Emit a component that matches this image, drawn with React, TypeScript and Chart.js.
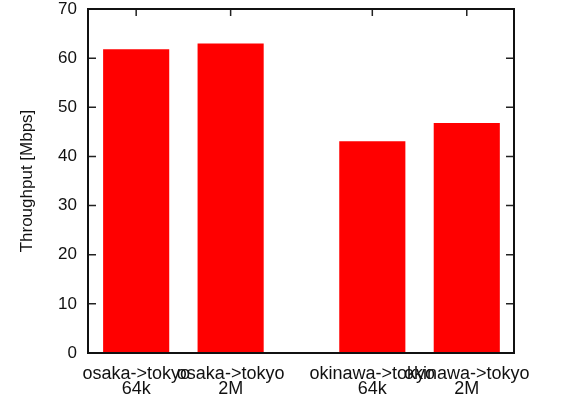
import React, { useEffect, useRef } from 'react';
import { Chart, registerables } from 'chart.js';

Chart.register(...registerables);

// ---- data ----
const categoryLines: string[][] = [
  ['osaka->tokyo', '64k'],
  ['osaka->tokyo', '2M'],
  ['okinawa->tokyo', '64k'],
  ['okinawa->tokyo', '2M'],
];
const positions: number[] = [0, 1, 2.5, 3.5];
const throughput: number[] = [61.8, 63.0, 43.1, 46.8];
const yTickValues: number[] = [0, 10, 20, 30, 40, 50, 60, 70];
const yTitle = 'Throughput [Mbps]';

const FONT = '"Liberation Sans", Arial, Helvetica, sans-serif';

const framePlugin = {
  id: 'gnuplotFrame',
  beforeDatasetsDraw(chart: any) {
    const { ctx, chartArea, scales } = chart;
    const { left, right, top, bottom } = chartArea;
    ctx.save();
    ctx.strokeStyle = '#222';
    ctx.lineWidth = 1.5;
    ctx.beginPath();
    for (const v of yTickValues) {
      const y = scales.y.getPixelForValue(v);
      ctx.moveTo(left, y);
      ctx.lineTo(left + 8, y);
      ctx.moveTo(right, y);
      ctx.lineTo(right - 8, y);
    }
    for (const p of positions) {
      const x = scales.x.getPixelForValue(p);
      ctx.moveTo(x, top);
      ctx.lineTo(x, top + 7);
      ctx.moveTo(x, bottom);
      ctx.lineTo(x, bottom - 7);
    }
    ctx.stroke();
    ctx.restore();
  },
  afterDatasetsDraw(chart: any) {
    const { ctx, chartArea } = chart;
    const { left, right, top, bottom } = chartArea;
    ctx.save();
    ctx.strokeStyle = '#111';
    ctx.lineWidth = 2;
    ctx.strokeRect(left, top, right - left, bottom - top);
    ctx.restore();
  },
};

export default function App() {
  const canvasRef = useRef<HTMLCanvasElement | null>(null);

  useEffect(() => {
    document.body.style.margin = '0';
    const canvas = canvasRef.current;
    if (!canvas) return;
    const chart = new Chart(canvas, {
      type: 'bar',
      data: {
        datasets: [
          {
            data: positions.map((p, i) => ({ x: p, y: throughput[i] })),
            backgroundColor: '#ff0000',
            borderWidth: 0,
            barPercentage: 0.7,
            categoryPercentage: 1,
          },
        ],
      },
      options: {
        responsive: false,
        animation: false,
        devicePixelRatio: 1,
        layout: { padding: { top: 0, right: 60, left: 0, bottom: 0 } },
        plugins: {
          legend: { display: false },
          tooltip: { enabled: false },
        },
        scales: {
          x: {
            type: 'linear',
            offset: false,
            min: -0.51,
            max: 4.0,
            grid: { display: false, drawTicks: false, offset: false },
            border: { display: false },
            afterBuildTicks: (scale: any) => {
              scale.ticks = positions.map((v) => ({ value: v }));
            },
            afterFit: (scale: any) => {
              scale.height = 50;
            },
            ticks: {
              autoSkip: false,
              maxRotation: 0,
              minRotation: 0,
              padding: 13,
              color: '#111',
              font: { family: FONT, size: 18, lineHeight: 0.85 },
              callback: (_v: any, index: number) => categoryLines[index],
            },
          },
          y: {
            type: 'linear',
            min: 0,
            max: 70,
            grid: { display: false, drawTicks: false },
            border: { display: false },
            afterBuildTicks: (scale: any) => {
              scale.ticks = yTickValues.map((v) => ({ value: v }));
            },
            afterFit: (scale: any) => {
              scale.width = 88;
              scale.paddingTop = 9;
              scale.paddingBottom = 0;
            },
            ticks: {
              padding: 11,
              color: '#111',
              font: { family: FONT, size: 17, lineHeight: 1.05 },
            },
            title: {
              display: true,
              text: yTitle,
              color: '#111',
              font: { family: FONT, size: 17 },
              padding: { top: 17, bottom: 0 },
            },
          },
        },
      },
      plugins: [framePlugin],
    });
    return () => chart.destroy();
  }, []);

  return (
    <div style={{ width: 574, height: 403, background: '#fff' }}>
      <canvas ref={canvasRef} width={574} height={403} />
    </div>
  );
}
